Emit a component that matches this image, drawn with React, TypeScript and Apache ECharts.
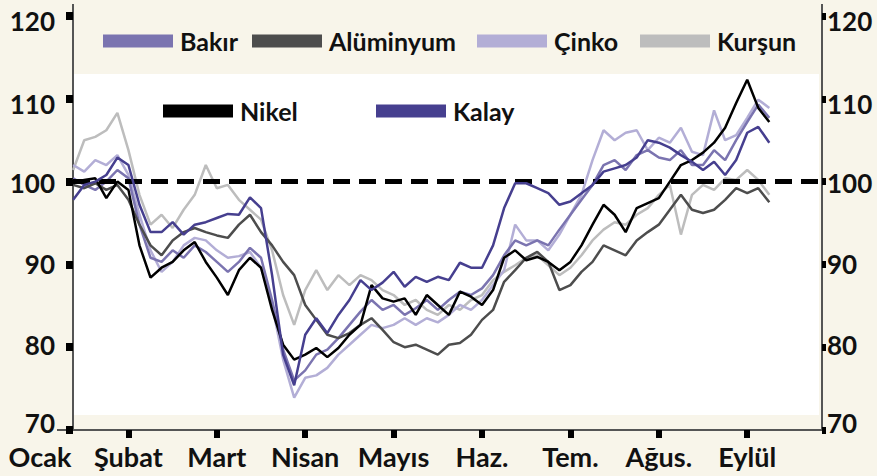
import React, { useEffect, useRef } from "react";
import * as echarts from "echarts";

const months = ["Ocak", "Şubat", "Mart", "Nisan", "Mayıs", "Haz.", "Tem.", "Ağus.", "Eylül", ""];
const yTicks = [70, 80, 90, 100, 110, 120];

// x positions in month units (0 = Ocak tick)
const xPos = [
  0.375, 0.5, 0.625, 0.75, 0.875, 1, 1.125, 1.25, 1.375, 1.5, 1.625, 1.75, 1.875, 2, 2.125, 2.25,
  2.375, 2.5, 2.625, 2.75, 2.875, 3, 3.125, 3.25, 3.375, 3.5, 3.625, 3.75, 3.875, 4, 4.125, 4.25,
  4.375, 4.5, 4.625, 4.75, 4.875, 5, 5.125, 5.25, 5.375, 5.5, 5.625, 5.75, 5.875, 6, 6.125, 6.25,
  6.375, 6.5, 6.625, 6.75, 6.875, 7, 7.125, 7.25, 7.375, 7.5, 7.625, 7.75, 7.875, 8, 8.125, 8.25,
];

const bakir = [
  100.4, 99.6, 99.0, 100.0, 101.4, 100.4, 94.8, 90.8, 90.3, 91.7, 90.8, 92.3, 91.5, 90.3, 89.1, 90.3,
  92.0, 90.8, 85.7, 79.7, 76.0, 77.2, 79.1, 79.7, 81.1, 82.7, 84.3, 85.7, 84.5, 85.1, 83.9, 84.7,
  85.7, 84.5, 85.7, 86.7, 86.3, 87.1, 88.7, 91.1, 92.9, 92.3, 92.9, 92.3, 94.2, 96.0, 97.8, 99.6,
  102.0, 102.6, 101.4, 103.2, 103.8, 102.9, 102.6, 103.8, 102.0, 102.0, 103.8, 102.6, 105.0, 107.2, 109.3, 107.7,
];
const aluminyum = [
  99.6, 99.2, 99.8, 99.0, 99.6, 97.8, 94.8, 92.3, 91.1, 92.9, 93.9, 94.4, 93.9, 93.5, 93.2, 94.8,
  96.0, 93.9, 92.3, 90.3, 88.7, 85.1, 83.3, 81.5, 81.1, 81.7, 82.7, 83.5, 82.1, 80.6, 80.0, 80.3,
  79.7, 79.1, 80.3, 80.5, 81.5, 83.3, 84.5, 87.9, 89.3, 90.8, 91.5, 90.3, 86.9, 87.5, 89.1, 90.3,
  92.3, 91.7, 91.1, 92.9, 93.9, 94.8, 96.6, 98.4, 96.6, 96.2, 96.6, 97.8, 99.2, 98.6, 99.2, 97.5,
];
const cinko = [
  102.0, 101.2, 102.6, 102.0, 103.2, 100.8, 96.0, 91.7, 89.1, 90.3, 92.3, 93.2, 92.9, 91.7, 90.8, 91.0,
  91.5, 89.6, 85.1, 78.5, 73.9, 76.3, 76.6, 77.5, 79.1, 80.3, 81.5, 82.7, 82.3, 82.7, 83.5, 82.7,
  83.5, 83.0, 83.9, 85.1, 84.5, 85.7, 87.5, 89.3, 94.8, 92.9, 92.9, 91.7, 93.6, 96.0, 98.4, 102.6,
  106.2, 105.0, 105.9, 106.2, 103.8, 105.3, 104.7, 106.5, 103.6, 103.2, 108.6, 105.0, 105.6, 107.7, 109.9, 108.9,
];
const kursun = [
  101.4, 105.0, 105.4, 106.2, 108.3, 103.8, 98.4, 94.8, 96.0, 94.4, 96.6, 98.4, 102.0, 99.2, 99.6, 97.8,
  96.6, 95.4, 91.7, 86.3, 82.7, 86.9, 89.3, 86.9, 88.7, 87.5, 88.7, 88.1, 86.9, 86.3, 85.1, 85.7,
  84.5, 83.9, 85.1, 84.5, 85.7, 86.3, 88.1, 89.1, 89.9, 90.8, 91.1, 89.9, 88.7, 89.6, 91.1, 92.9,
  94.2, 95.1, 94.8, 96.0, 96.8, 98.4, 99.6, 93.6, 98.4, 99.6, 99.0, 100.4, 100.2, 101.4, 100.2, 98.4,
];
const nikel = [
  99.8, 100.2, 100.4, 98.0, 100.0, 99.0, 92.3, 88.4, 89.6, 90.3, 91.7, 92.7, 90.3, 88.4, 86.3, 89.3,
  90.8, 89.6, 84.5, 80.3, 78.5, 79.1, 79.9, 78.8, 79.9, 81.5, 82.7, 87.5, 85.9, 85.5, 85.9, 83.9,
  86.3, 85.1, 83.9, 86.7, 86.1, 85.1, 86.9, 90.8, 91.7, 90.5, 90.9, 90.3, 89.3, 90.3, 92.3, 94.8,
  97.2, 96.0, 93.9, 96.8, 97.4, 98.0, 100.0, 102.0, 102.6, 103.5, 104.7, 106.5, 109.5, 112.3, 108.9, 107.2,
];
const kalay = [
  97.8, 99.6, 100.0, 100.8, 102.9, 102.0, 97.2, 93.9, 93.9, 95.1, 93.6, 94.8, 95.1, 95.6, 96.1, 96.0,
  98.1, 96.8, 88.7, 79.1, 75.4, 81.5, 83.5, 81.7, 83.9, 85.7, 88.1, 86.9, 87.8, 89.1, 87.3, 88.5,
  87.9, 88.5, 88.1, 90.2, 89.6, 89.6, 92.3, 96.8, 99.8, 99.8, 99.2, 98.6, 97.2, 97.6, 98.6, 99.6,
  101.2, 101.6, 102.0, 102.9, 105.0, 104.7, 104.1, 103.2, 102.4, 101.4, 102.4, 100.8, 102.6, 105.9, 106.6, 104.7,
];

const seriesDefs = [
  { name: "Kurşun", values: kursun, color: "#bdbdbd" },
  { name: "Çinko", values: cinko, color: "#b3aed6" },
  { name: "Bakır", values: bakir, color: "#7b74b0" },
  { name: "Alüminyum", values: aluminyum, color: "#4d4d4d" },
  { name: "Nikel", values: nikel, color: "#000000" },
  { name: "Kalay", values: kalay, color: "#463f8f" },
];

const legendPos: { name: string; left: number; top: number }[] = [
  { name: "Bakır", left: 103, top: 27 },
  { name: "Alüminyum", left: 252, top: 27 },
  { name: "Çinko", left: 477, top: 27 },
  { name: "Kurşun", left: 640, top: 27 },
  { name: "Nikel", left: 163, top: 97 },
  { name: "Kalay", left: 376, top: 97 },
];

// vertical shift (px) of each y tick label relative to its tick, as in the reference
const labelShift = [-7, -2, 0, 1, 5, 5];

const FONT = "Lato, 'Noto Sans', sans-serif";

export default function App() {
  const ref = useRef<HTMLDivElement>(null);
  useEffect(() => {
    if (!ref.current) return;
    const chart = echarts.init(ref.current, undefined, { renderer: "svg" });
    const labelStyle = { fontFamily: FONT, fontWeight: "bold" as const, color: "#111", fontSize: 26 };
    const rich: any = {};
    yTicks.forEach((t, i) => {
      const s = labelShift[i];
      rich["s" + t] = {
        ...labelStyle,
        padding: s >= 0 ? [2 * s, 0, 0, 0] : [0, 0, -2 * s, 0],
      };
    });
    const yLabel = (margin: number) => ({
      ...labelStyle,
      margin,
      formatter: (v: number) => `{s${v}|${v}}`,
      rich,
    });
    const option: any = {
      animation: false,
      backgroundColor: "#f8f5ea",
      graphic: {
        elements: [
          { type: "rect", z: -10, silent: true, shape: { x: 74, y: 74, width: 745, height: 341 }, style: { fill: "#ffffff" } },
          { type: "line", silent: true, shape: { x1: 73, y1: 4, x2: 73, y2: 17 }, style: { stroke: "#555", lineWidth: 2 } },
          { type: "line", silent: true, shape: { x1: 822, y1: 4, x2: 822, y2: 17 }, style: { stroke: "#555", lineWidth: 2 } },
          { type: "line", silent: true, shape: { x1: 57, y1: 430, x2: 74, y2: 430 }, style: { stroke: "#555", lineWidth: 2 } },
        ],
      },
      legend: legendPos.map((l) => ({
        data: [l.name],
        left: l.left,
        top: l.top,
        padding: 0,
        icon: "rect",
        itemWidth: 70,
        itemHeight: 13,
        selectedMode: false,
        textStyle: { fontFamily: FONT, fontWeight: "bold", fontSize: 25, color: "#111", lineHeight: 28, padding: [0, 0, 0, 2] },
      })),
      grid: [
        { left: 73, right: 55, top: 16, bottom: 46, containLabel: false },
        { left: 40, right: 41.4, top: 16, bottom: 46, containLabel: false },
      ],
      xAxis: [
        {
          type: "value",
          gridIndex: 0,
          min: 0.373,
          max: 8.846,
          axisLine: { show: true, lineStyle: { color: "#555", width: 2 } },
          axisTick: { show: false },
          axisLabel: { show: false },
          splitLine: { show: false },
        },
        {
          type: "category",
          gridIndex: 1,
          data: months,
          boundaryGap: false,
          axisLine: { show: false },
          axisTick: {
            show: true,
            interval: (i: number) => i >= 1 && i <= 8,
            length: 8,
            lineStyle: { color: "#000", width: 6 },
          },
          axisLabel: { ...labelStyle, fontSize: 27, margin: 13, interval: 0 },
          splitLine: { show: false },
        },
      ],
      yAxis: [
        {
          type: "value",
          gridIndex: 0,
          position: "left",
          min: 70,
          max: 120,
          interval: 10,
          axisLine: { show: true, lineStyle: { color: "#555", width: 2 } },
          axisTick: { show: true, length: 7, lineStyle: { color: "#000", width: 8 } },
          axisLabel: yLabel(18),
          splitLine: { show: false },
        },
        {
          type: "value",
          gridIndex: 0,
          position: "right",
          min: 70,
          max: 120,
          interval: 10,
          axisLine: { show: true, lineStyle: { color: "#555", width: 2 } },
          axisTick: { show: true, length: 4, lineStyle: { color: "#000", width: 7 } },
          axisLabel: yLabel(5),
          splitLine: { show: false },
        },
        { type: "value", gridIndex: 1, show: false, min: 0, max: 1 },
      ],
      series: seriesDefs.map((s, idx) => ({
        name: s.name,
        type: "line",
        xAxisIndex: 0,
        yAxisIndex: 0,
        showSymbol: false,
        symbol: "none",
        color: s.color,
        itemStyle: { color: s.color },
        lineStyle: { color: s.color, width: 2.5 },
        data: xPos.map((x, i) => [x, s.values[i]]),
        z: 2 + idx,
        markLine:
          idx === seriesDefs.length - 1
            ? {
                silent: true,
                symbol: ["none", "none"],
                label: { show: false },
                lineStyle: { color: "#000", width: 5, type: [17, 9] },
                data: [{ yAxis: 100 }],
              }
            : undefined,
      })),
    };
    chart.setOption(option);
    return () => chart.dispose();
  }, []);
  return <div ref={ref} style={{ position: "fixed", left: 0, top: 0, width: 877, height: 476 }} />;
}
